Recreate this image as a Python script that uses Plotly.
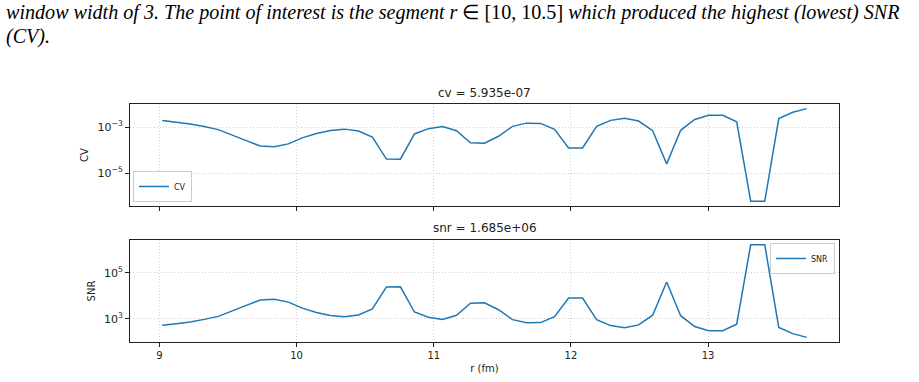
import numpy as np
import plotly.graph_objects as go

# ---- data ----
r_fm = list(np.round(np.linspace(9.02, 13.72, 47), 4))

cv_values = [1.905e-3, 1.62e-3, 1.35e-3, 1.047e-3, 7.76e-4, 4.47e-4, 2.57e-4, 1.51e-4,
             1.41e-4, 1.86e-4, 3.39e-4, 5.25e-4, 7.08e-4, 8.13e-4, 6.76e-4, 3.71e-4,
             4.07e-5, 4.05e-5, 5.01e-4, 8.51e-4, 1.047e-3, 6.92e-4, 2.09e-4, 1.995e-4,
             3.98e-4, 1.072e-3, 1.48e-3, 1.445e-3, 7.94e-4, 1.23e-4, 1.23e-4, 1.072e-3,
             1.95e-3, 2.40e-3, 1.82e-3, 6.92e-4, 2.51e-5, 7.24e-4, 2.14e-3, 3.24e-3,
             3.24e-3, 1.70e-3, 5.95e-7, 5.935e-7, 2.34e-3, 4.37e-3, 6.31e-3]

snr_values = [525, 617, 741, 955, 1288, 2239, 3890, 6607,
              7079, 5370, 2951, 1905, 1413, 1230, 1479, 2692,
              24570, 24690, 1995, 1175, 955, 1445, 4786, 5012,
              2512, 933, 676, 692, 1259, 8128, 8128, 933,
              513, 417, 550, 1445, 39811, 1380, 468, 309,
              309, 589, 1.68e6, 1.685e6, 427, 229, 158]

x_ticks = [9, 10, 11, 12, 13]
cv_ticks = [1e-5, 1e-3]
cv_ticktext = ["10<sup>\u22125</sup>", "10<sup>\u22123</sup>"]
snr_ticks = [1e3, 1e5]
snr_ticktext = ["10<sup>3</sup>", "10<sup>5</sup>"]

caption_1 = ("<i>window width of 3. The point of interest is the segment r</i> \u2208 [10, 10.5] "
             "<i>which produced the highest (lowest) SNR</i>")
caption_2 = "<i>(CV).</i>"

# ---- layout helpers ----
W, H = 919, 382
def px_x(p):
    return p / W
def px_y(p):
    return 1 - p / H

def pad_range(vals, log=False):
    v = np.log10(vals) if log else np.asarray(vals, float)
    lo, hi = float(np.min(v)), float(np.max(v))
    s = hi - lo
    return [lo - 0.05 * s, hi + 0.05 * s]

blue = "#1f77b4"
ink = "#222222"
font_family = "DejaVu Sans"
grid_dash = "1px,2px"
grid_col = "#cfcfcf"

fig = go.Figure()
fig.add_trace(go.Scatter(x=r_fm, y=cv_values, mode="lines", name="CV",
                         line=dict(color=blue, width=1.5, simplify=False),
                         xaxis="x2", yaxis="y2", legend="legend"))
fig.add_trace(go.Scatter(x=r_fm, y=snr_values, mode="lines", name="SNR",
                         line=dict(color=blue, width=1.5, simplify=False),
                         xaxis="x", yaxis="y", legend="legend2"))

common_x = dict(domain=[px_x(130), px_x(839)], range=pad_range(r_fm),
                tickvals=x_ticks, ticks="outside", ticklen=4, tickcolor=ink,
                showline=True, linecolor=ink, linewidth=1, mirror=True,
                showgrid=True, gridcolor=grid_col, griddash=grid_dash, gridwidth=1,
                zeroline=False, tickfont=dict(size=10, color=ink, family=font_family))
common_y = dict(type="log", ticks="outside", ticklen=4, tickcolor=ink,
                showline=True, linecolor=ink, linewidth=1, mirror=True,
                showgrid=True, gridcolor=grid_col, griddash=grid_dash, gridwidth=1,
                zeroline=False, tickfont=dict(size=11, color=ink, family=font_family))

fig.update_layout(
    width=W, height=H, margin=dict(l=0, r=0, t=0, b=0),
    paper_bgcolor="white", plot_bgcolor="white",
    font=dict(family=font_family, color=ink),
    xaxis=dict(**common_x, anchor="y",
               title=dict(text="r (fm)", font=dict(size=10), standoff=4)),
    xaxis2=dict(**common_x, anchor="y2", matches="x", showticklabels=False),
    yaxis=dict(**common_y, domain=[px_y(342), px_y(240)],
               range=pad_range(snr_values, log=True),
               tickvals=snr_ticks, ticktext=snr_ticktext,
               title=dict(text="SNR", font=dict(size=10), standoff=6)),
    yaxis2=dict(**common_y, domain=[px_y(206), px_y(104)],
                range=pad_range(cv_values, log=True),
                tickvals=cv_ticks, ticktext=cv_ticktext,
                title=dict(text="CV", font=dict(size=10), standoff=6)),
    legend=dict(x=px_x(133), y=px_y(202), xanchor="left", yanchor="bottom",
                bgcolor="white", bordercolor="#cccccc", borderwidth=1,
                font=dict(size=8, color=ink), itemwidth=30,
                tracegroupgap=0),
    legend2=dict(x=px_x(835), y=px_y(243), xanchor="right", yanchor="top",
                 bgcolor="white", bordercolor="#cccccc", borderwidth=1,
                 font=dict(size=8, color=ink), itemwidth=30),
    showlegend=True,
)

cx = px_x((130 + 839) / 2)
fig.add_annotation(text=f"cv = {min(cv_values):.3e}", x=cx, y=px_y(93), xref="paper", yref="paper",
                   xanchor="center", yanchor="middle", showarrow=False,
                   font=dict(size=12, color=ink, family=font_family))
fig.add_annotation(text=f"snr = {max(snr_values):.3e}", x=cx, y=px_y(228), xref="paper", yref="paper",
                   xanchor="center", yanchor="middle", showarrow=False,
                   font=dict(size=12, color=ink, family=font_family))

cap_font = dict(size=20.1, color="black", family="Liberation Serif")
fig.add_annotation(text=caption_1, x=px_x(4), y=px_y(12), xref="paper", yref="paper",
                   xanchor="left", yanchor="middle", showarrow=False, font=cap_font)
fig.add_annotation(text=caption_2, x=px_x(4), y=px_y(37), xref="paper", yref="paper",
                   xanchor="left", yanchor="middle", showarrow=False, font=cap_font)

fig.write_html("out.html")
